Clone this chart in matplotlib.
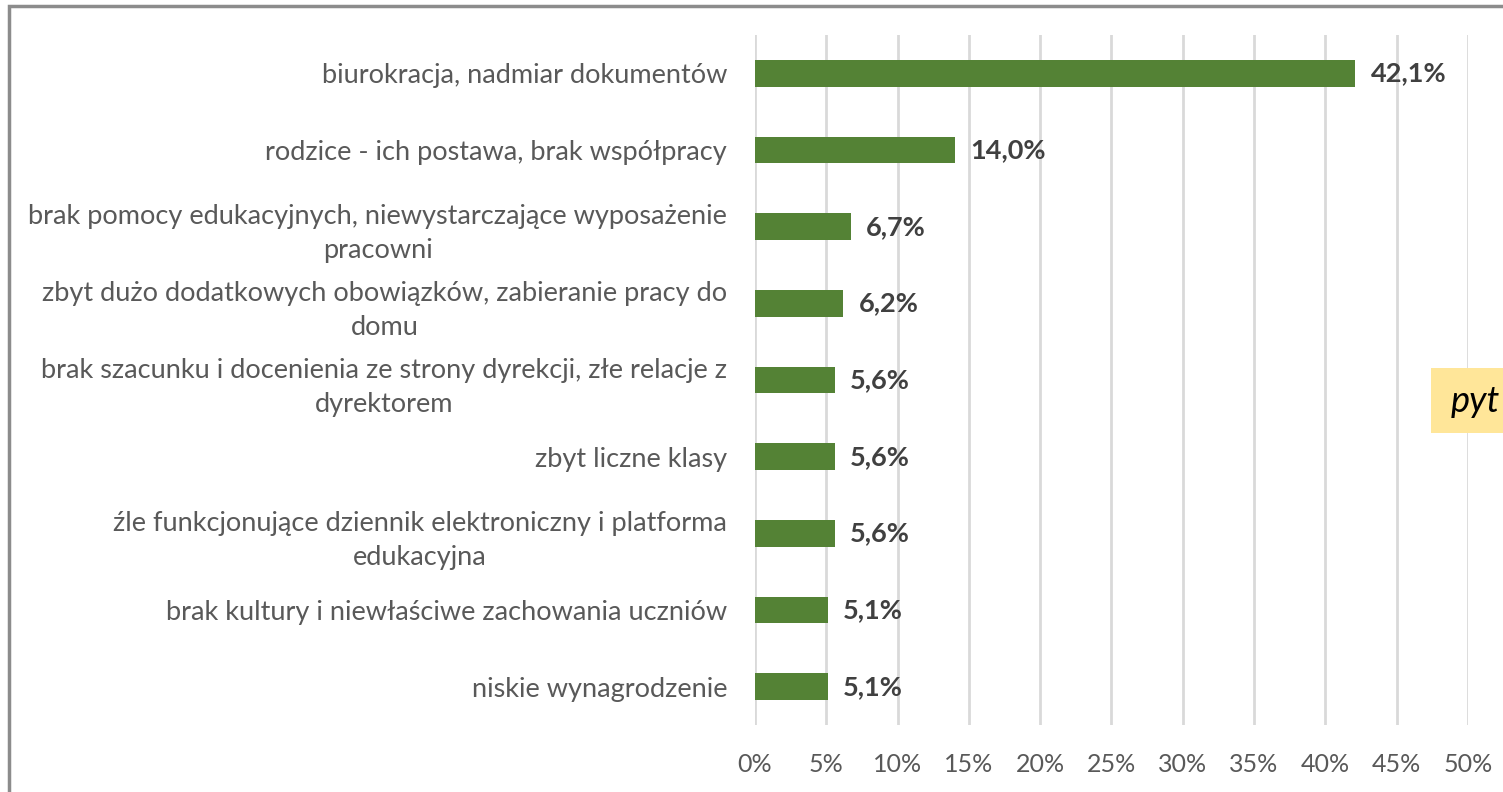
import matplotlib
matplotlib.use("Agg")
import matplotlib.pyplot as plt
from matplotlib.patches import Rectangle

# survey answers, top to bottom
categories = [
    "biurokracja, nadmiar dokumentów",
    "rodzice - ich postawa, brak współpracy",
    "brak pomocy edukacyjnych, niewystarczające wyposażenie\npracowni",
    "zbyt dużo dodatkowych obowiązków, zabieranie pracy do\ndomu",
    "brak szacunku i docenienia ze strony dyrekcji, złe relacje z\ndyrektorem",
    "zbyt liczne klasy",
    "źle funkcjonujące dziennik elektroniczny i platforma\nedukacyjna",
    "brak kultury i niewłaściwe zachowania uczniów",
    "niskie wynagrodzenie",
]
values = [42.1, 14.0, 6.7, 6.2, 5.6, 5.6, 5.6, 5.1, 5.1]
xticks = [0, 5, 10, 15, 20, 25, 30, 35, 40, 45, 50]

plt.rcParams["font.family"] = ["Lato", "DejaVu Sans"]

fig = plt.figure(figsize=(15.03, 7.92), dpi=100)
ax = fig.add_axes([0.5023, 0.0846, 0.4744, 0.8712])

ypos = list(range(len(categories)))
ax.barh(ypos, values, height=0.35, color="#548235", zorder=3)

for y, v in zip(ypos, values):
    ax.annotate(f"{v:.1f}%".replace(".", ","), (v, y), xytext=(11, 0),
                textcoords="offset points", va="center", ha="left",
                fontsize=19.5, fontweight="bold", color="#404040")

ax.set_ylim(len(categories) - 0.5, -0.5)
ax.set_xlim(0, 50)
ax.set_yticks(ypos)
ax.set_yticklabels(categories, fontsize=19.5, color="#595959",
                   linespacing=1.45)
for lbl in ax.get_yticklabels():
    lbl.set_multialignment("center")
ax.set_xticks(xticks)
ax.set_xticklabels([f"{t}%" for t in xticks], fontsize=18, color="#595959")
ax.tick_params(axis="y", length=0, pad=20)
ax.tick_params(axis="x", length=0, pad=20)

ax.grid(axis="x", color="#D9D9D9", linewidth=2, zorder=0)
for s in ax.spines.values():
    s.set_visible(False)

# chart frame, running off the right and bottom edges
fig.patches.append(Rectangle((9 / 1503, -0.05), 1.2, 1 - 6 / 792 + 0.05,
                             transform=fig.transFigure, fill=False,
                             edgecolor="#8C8C8C", linewidth=2.5))

# yellow note box at the right edge
fig.patches.append(Rectangle((1431 / 1503, 1 - 433 / 792), 0.1, 65 / 792,
                             transform=fig.transFigure, facecolor="#FFE699",
                             edgecolor="none", zorder=5))
fig.text(1451 / 1503, 1 - 402 / 792, "pyt", fontsize=26, style="italic",
         color="black", va="center", ha="left", zorder=6)

fig.savefig("out.png", dpi=100)
